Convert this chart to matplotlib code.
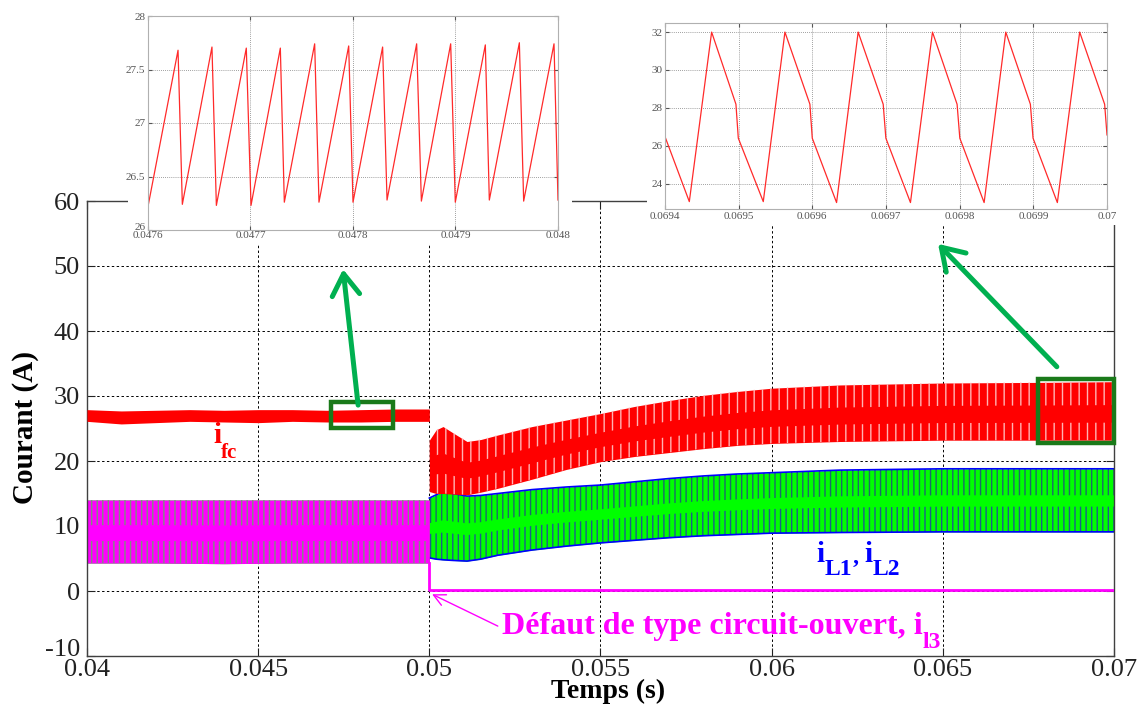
import numpy as np
import matplotlib
matplotlib.use("Agg")
import matplotlib.pyplot as plt
from matplotlib.patches import Rectangle
from matplotlib.transforms import ScaledTranslation

# ---------------- data ----------------
# fuel-cell current i_fc : envelope of the switching ripple
t_fc = [0.0400, 0.0405, 0.0410, 0.0420, 0.0430, 0.0440, 0.0450, 0.0460, 0.0470,
        0.0480, 0.0490, 0.0500, 0.0500, 0.0502, 0.0504, 0.0507, 0.0511, 0.0515,
        0.0520, 0.0530, 0.0540, 0.0550, 0.0560, 0.0570, 0.0580, 0.0590, 0.0600,
        0.0620, 0.0650, 0.0680, 0.0700]
ifc_hi = [27.9, 27.8, 27.7, 27.8, 27.9, 27.8, 27.9, 27.9, 27.8, 27.9, 28.0, 28.0,
          23.2, 24.8, 25.3, 24.3, 23.0, 23.3, 24.0, 25.3, 26.3, 27.3, 28.4, 29.3,
          30.1, 30.7, 31.2, 31.7, 32.0, 32.1, 32.2]
ifc_lo = [26.1, 25.9, 25.7, 25.9, 26.1, 26.0, 25.9, 26.1, 26.0, 26.0, 26.1, 26.1,
          15.3, 15.0, 15.0, 14.9, 14.8, 15.2, 15.8, 17.2, 18.7, 19.9, 20.7, 21.3,
          21.9, 22.4, 22.7, 23.0, 23.2, 23.2, 23.2]

# inductor currents i_L1, i_L2 : envelope
t_L = [0.0400, 0.0420, 0.0440, 0.0460, 0.0480, 0.0500, 0.0500, 0.0502, 0.0504,
       0.0507, 0.0511, 0.0515, 0.0520, 0.0530, 0.0540, 0.0550, 0.0560, 0.0570,
       0.0580, 0.0590, 0.0600, 0.0620, 0.0650, 0.0680, 0.0700]
iL_hi = [14.0, 14.0, 14.0, 14.0, 14.0, 14.0, 14.3, 14.8, 15.3, 15.0, 14.6, 14.7,
         15.0, 15.6, 16.0, 16.3, 16.8, 17.3, 17.7, 18.0, 18.2, 18.6, 18.8, 18.8, 18.8]
iL_lo = [4.3, 4.3, 4.2, 4.3, 4.3, 4.3, 5.1, 4.9, 4.8, 4.7, 4.6, 4.9, 5.5, 6.3,
         6.9, 7.4, 7.8, 8.2, 8.5, 8.7, 8.9, 9.0, 9.1, 9.1, 9.1]

# faulty leg current i_l3
t_l3_pre = [0.0400, 0.0420, 0.0440, 0.0460, 0.0480, 0.0500]
il3_hi = [14.0, 14.0, 14.0, 14.0, 14.0, 14.0]
il3_lo = [4.3, 4.3, 4.2, 4.3, 4.3, 4.3]
t_l3_post = [0.0500, 0.0500, 0.0700]
il3_post = [4.3, 0.2, 0.2]

# zoom 1 : i_fc between 0.0476 and 0.048 s
t_z1 = [0.0476000, 0.0476293, 0.0476335, 0.0476624, 0.0476667, 0.0476959,
        0.0477005, 0.0477291, 0.0477330, 0.0477626, 0.0477668, 0.0477958,
        0.0478000, 0.0478289, 0.0478332, 0.0478621, 0.0478667, 0.0478953,
        0.0478998, 0.0479291, 0.0479330, 0.0479623, 0.0479665, 0.0479961, 0.0480000]
v_z1 = [26.22, 27.68, 26.24, 27.71, 26.23, 27.70, 26.23, 27.70, 26.26, 27.74,
        26.26, 27.72, 26.26, 27.71, 26.28, 27.74, 26.27, 27.74, 26.26, 27.73,
        26.28, 27.75, 26.27, 27.74, 26.28]

# zoom 2 : i_fc between 0.0694 and 0.07 s
t_z2 = [0.0694000, 0.0694330, 0.0694633, 0.0694963, 0.0694995, 0.0695334,
        0.0695628, 0.0695967, 0.0695999, 0.0696329, 0.0696622, 0.0696962,
        0.0696998, 0.0697332, 0.0697631, 0.0697965, 0.0698002, 0.0698332,
        0.0698626, 0.0698960, 0.0698996, 0.0699326, 0.0699629, 0.0699968, 0.0700000]
v_z2 = [26.48, 23.05, 32.00, 28.19, 26.40, 23.05, 32.00, 28.19, 26.40, 23.00,
        32.00, 28.19, 26.40, 23.00, 32.00, 28.19, 26.40, 23.00, 32.00, 28.19,
        26.40, 23.00, 32.00, 28.19, 26.57]

x_ticks = [0.04, 0.045, 0.05, 0.055, 0.06, 0.065, 0.07]
x_ticklabels = ["0.04", "0.045", "0.05", "0.055", "0.06", "0.065", "0.07"]
y_ticks = [-10, 0, 10, 20, 30, 40, 50, 60]
z1_xticks = [0.0476, 0.0477, 0.0478, 0.0479, 0.0480]
z1_xlabels = ["0.0476", "0.0477", "0.0478", "0.0479", "0.048"]
z1_yticks = [26, 26.5, 27, 27.5, 28]
z1_ylabels = ["26", "26.5", "27", "27.5", "28"]
z2_xticks = [0.0694, 0.0695, 0.0696, 0.0697, 0.0698, 0.0699, 0.0700]
z2_xlabels = ["0.0694", "0.0695", "0.0696", "0.0697", "0.0698", "0.0699", "0.07"]
z2_yticks = [24, 26, 28, 30, 32]

# ---------------- figure ----------------
SERIF = ["Liberation Serif", "DejaVu Serif"]
plt.rcParams["font.family"] = SERIF
plt.rcParams["hatch.linewidth"] = 1.0
plt.rcParams["axes.unicode_minus"] = False

W, H = 1141, 707
fig = plt.figure(figsize=(W / 100, H / 100), dpi=100)

def fx(px):
    return px / W

def fy(py):
    return 1 - py / H

def nudge(label, dx_px, dy_px):
    label.set_transform(label.get_transform() +
                        ScaledTranslation(dx_px / 100, dy_px / 100,
                                          fig.dpi_scale_trans))

ax = fig.add_axes([fx(87), fy(656), fx(1114) - fx(87), fy(201) - fy(656)])
ax.set_xlim(0.04, 0.07)
ax.set_ylim(-10, 60)
ax.set_xticks(x_ticks)
ax.set_xticklabels(x_ticklabels)
ax.set_yticks(y_ticks)
ax.tick_params(direction="in", length=6, top=True, right=True, labelsize=19,
               colors="#222222")
ax.tick_params(axis="x", pad=2)
ax.tick_params(axis="y", pad=5)
for s in ax.spines.values():
    s.set_color("#404040")
    s.set_linewidth(1.0)
ax.set_axisbelow(True)
ax.grid(True, color="black", linestyle=(0, (2.5, 2.5)), linewidth=0.7)

t_fc_a = np.array(t_fc)
hi = np.array(ifc_hi)
lo = np.array(ifc_lo)
post = t_fc_a >= 0.05
post[np.where(t_fc_a == 0.05)[0][0]] = False  # first 0.05 belongs to pre-fault

# i_L band
tL = np.array(t_L)
Lh = np.array(iL_hi)
Ll = np.array(iL_lo)
ax.fill_between(tL, Ll, Lh, color="#00ff00", linewidth=0, zorder=2)
postL = tL >= 0.05
postL[np.where(tL == 0.05)[0][0]] = False
rngL = Lh - Ll
ax.fill_between(tL, Lh - 0.42 * rngL, Lh, where=postL, facecolor="none",
                edgecolor="#1d6a6a", hatch="|||", linewidth=0, zorder=2.1)
ax.fill_between(tL, Ll, Ll + 0.4 * rngL, where=postL, facecolor="none",
                edgecolor="#1d5f8a", hatch="|||", linewidth=0, zorder=2.1)
ax.plot(tL[postL], Lh[postL], color="#0000ff", lw=1.2, zorder=2.2)
ax.plot(tL[postL], Ll[postL], color="#0000ff", lw=1.2, zorder=2.2)

# i_l3 band before fault + zero after
ax.fill_between(t_l3_pre, il3_lo, il3_hi, color="#ff00ff", linewidth=0, zorder=2.5)
h3 = np.array(il3_hi)
l3 = np.array(il3_lo)
r3 = h3 - l3
ax.fill_between(t_l3_pre, h3 - 0.4 * r3, h3, facecolor="none", edgecolor="#7f8f7f",
                hatch="|||", linewidth=0, zorder=2.6)
ax.fill_between(t_l3_pre, l3, l3 + 0.35 * r3, facecolor="none", edgecolor="#7f8f7f",
                hatch="|||", linewidth=0, zorder=2.6)
ax.plot(t_l3_post, il3_post, color="#ff00ff", lw=2.0, zorder=2.7)

# i_fc band
ax.fill_between(t_fc_a, lo, hi, color="#ff0000", linewidth=0, zorder=3)
rng = hi - lo
ax.fill_between(t_fc_a, hi - 0.4 * rng, hi, where=post, facecolor="none",
                edgecolor="#ffb4b4", hatch="||", linewidth=0, zorder=3.1)
ax.fill_between(t_fc_a, lo, lo + 0.3 * rng, where=post, facecolor="none",
                edgecolor="#ffb4b4", hatch="||", linewidth=0, zorder=3.1)

# zoom boxes
ax.add_patch(Rectangle((0.04712, 25.1), 0.04895 - 0.04712, 29.1 - 25.1,
                       fill=False, edgecolor="#1a7a1a", lw=3.2, zorder=5))
ax.add_patch(Rectangle((0.06778, 22.8), 0.07 - 0.06778, 32.6 - 22.8,
                       fill=False, edgecolor="#1a7a1a", lw=3.2, zorder=5,
                       clip_on=False))

# green arrows
arrow_kw = dict(arrowstyle="->,head_length=0.7,head_width=0.45", color="#00b050",
                lw=3.6, mutation_scale=22, shrinkA=0, shrinkB=0)
ax.annotate("", xy=(0.04748, 49.5), xytext=(0.04792, 28.6),
            arrowprops=arrow_kw, annotation_clip=False, zorder=6)
ax.annotate("", xy=(0.06486, 53.4), xytext=(0.06833, 34.5),
            arrowprops=arrow_kw, annotation_clip=False, zorder=6)

# labels with lowered subscripts
def chain(x, y, parts, color):
    # parts: (text, size, dy_points)
    t0 = ax.text(x, y, parts[0][0], color=color, fontsize=parts[0][1],
                 fontweight="bold", va="baseline", ha="left", zorder=7)
    prev = t0
    prev_dy = parts[0][2]
    for txt, size, dy in parts[1:]:
        a = ax.annotate(txt, xy=(1, 0), xycoords=prev,
                        xytext=(0, dy - prev_dy), textcoords="offset points",
                        color=color, fontsize=size, fontweight="bold",
                        va="bottom", ha="left", zorder=7)
        prev = a
        prev_dy = dy
    return t0

chain(0.04368, 22.8, [("i", 21, 0), ("fc", 15, -10)], "#ff0000")
chain(0.06132, 4.5, [("i", 21, 0), ("L1", 17, -9), ("’ ", 17, -9),
                     ("i", 21, 0), ("L2", 17, -9)], "#0000ff")
chain(0.05212, -6.6, [("Défaut de type circuit-ouvert, i", 23, 0),
                      ("l3", 17, -9)], "#ff00ff")
ax.annotate("", xy=(0.05008, -0.5), xytext=(0.05200, -5.4),
            arrowprops=dict(arrowstyle="->,head_length=0.6,head_width=0.3",
                            color="#ff00ff", lw=1.0, mutation_scale=14,
                            shrinkA=0, shrinkB=0), zorder=7)

# axis titles
fig.text(fx(26), fy(428), "Courant (A)", rotation=90, ha="center", va="center",
         fontsize=21, fontweight="bold")
fig.text(fx(608), fy(698), "Temps (s)", ha="center", va="baseline",
         fontsize=20, fontweight="bold")

# white panels behind the zoom insets
fig.add_artist(Rectangle((fx(128), fy(244)), fx(572) - fx(128), fy(0) - fy(244),
                         transform=fig.transFigure, facecolor="white",
                         edgecolor="none", zorder=1))
fig.add_artist(Rectangle((fx(647), fy(225)), fx(1141) - fx(647), fy(0) - fy(225),
                         transform=fig.transFigure, facecolor="white",
                         edgecolor="none", zorder=1))

def style_inset(a):
    a.set_zorder(2)
    a.tick_params(direction="in", length=3, labelsize=8, colors="#555555",
                  top=True, right=True, pad=2)
    for s in a.spines.values():
        s.set_color("#b0b0b0")
        s.set_linewidth(0.8)
    a.grid(True, color="#808080", linestyle=(0, (1, 1.5)), linewidth=0.6)

ax1 = fig.add_axes([fx(148), fy(230), fx(558) - fx(148), fy(16) - fy(230)])
ax1.plot(t_z1, v_z1, color="#ff2a2a", lw=0.9)
ax1.set_xlim(0.0476, 0.048)
ax1.set_ylim(26, 28)
ax1.set_xticks(z1_xticks)
ax1.set_xticklabels(z1_xlabels)
ax1.set_yticks(z1_yticks)
ax1.set_yticklabels(z1_ylabels)
style_inset(ax1)
ax1.tick_params(axis="x", pad=1)

ax2 = fig.add_axes([fx(665), fy(209), fx(1107) - fx(665), fy(23) - fy(209)])
ax2.plot(t_z2, v_z2, color="#ff2a2a", lw=0.9)
ax2.set_xlim(0.0694, 0.07)
ax2.set_ylim(22.66, 32.48)
ax2.set_xticks(z2_xticks)
ax2.set_xticklabels(z2_xlabels)
ax2.set_yticks(z2_yticks)
style_inset(ax2)

# small nudges so corner labels do not collide
nudge(ax.get_yticklabels()[0], 0, 8)
nudge(ax1.get_yticklabels()[0], 0, 4)

fig.savefig("out.png", dpi=100)
